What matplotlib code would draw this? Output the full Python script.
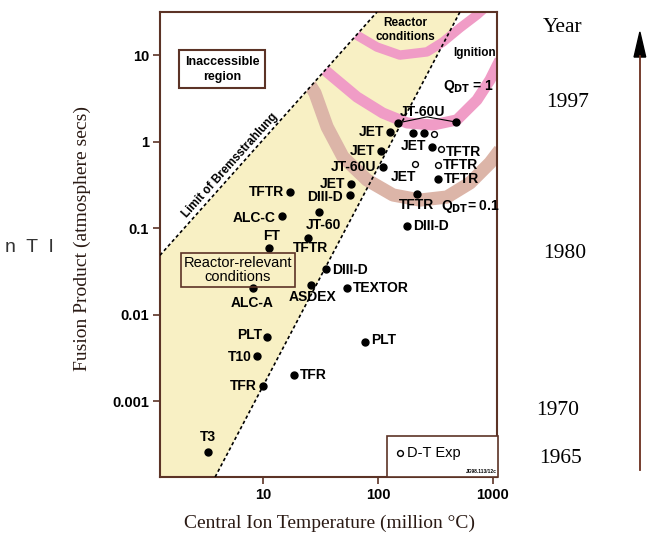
import numpy as np
import matplotlib.pyplot as plt
from matplotlib.patches import Polygon, Rectangle
from matplotlib.lines import Line2D

# D-D experiments (filled dots): central ion temperature (million C), fusion product (atm s)
dd_names = ['JT-60U', '', 'JET', '', '', 'JET', 'JET', 'JT-60U', 'TFTR', 'TFTR',
            'DIII-D', 'TFTR', 'JET', 'DIII-D', 'ALC-C', 'JT-60', 'FT', 'TFTR', 'DIII-D',
            'ASDEX', 'TEXTOR', 'ALC-A', 'PLT', 'T10', 'TFR', 'TFR', 'T3', 'PLT']
dd_T = [149, 476, 127, 201, 251, 106, 295, 110, 333, 218,
        179, 17.2, 58.2, 57.1, 14.6, 30.7, 11.3, 24.6, 35.3,
        26.1, 53.7, 8.18, 10.8, 8.87, 10.0, 18.6, 3.33, 77]
dd_nTt = [1.66, 1.70, 1.31, 1.27, 1.27, 0.787, 0.875, 0.514, 0.373, 0.25,
          0.107, 0.264, 0.327, 0.244, 0.139, 0.155, 0.0595, 0.0776, 0.034,
          0.0222, 0.0205, 0.0205, 0.00557, 0.00336, 0.00151, 0.00202, 0.00026, 0.00487]

# D-T experiments (open circles)
dt_names = ['', 'TFTR', 'JET', 'TFTR']
dt_T = [307, 353, 210, 333]
dt_nTt = [1.24, 0.83, 0.557, 0.542]

# JT-60U link
jt_T = [149, 267, 476]
jt_nTt = [1.66, 1.95, 1.70]

# boundaries
brems_T = [1.27, 98]
brems_nTt = [0.049, 31.8]
relev_T = [3.83, 516]
relev_nTt = [1.34e-4, 31.8]

# Q bands
ign_T = [54.8, 98, 155, 267, 367, 516, 726, 851]
ign_nTt = [19.7, 12.5, 10.1, 11.0, 14.3, 20.8, 29.4, 35.4]
q1_T = [31.3, 40.6, 65.6, 110, 179, 301, 486, 726, 942, 1150]
q1_nTt = [7.56, 5.64, 3.31, 2.16, 1.66, 1.57, 1.80, 3.06, 5.21, 8.87]
q01_T = [24.6, 28.3, 36.1, 49.6, 80.2, 135, 232, 398, 631, 942, 1150]
q01_nTt = [4.94, 3.68, 1.49, 0.671, 0.364, 0.244, 0.213, 0.231, 0.336, 0.572, 0.809]

xticks = [10, 100, 1000]
yticks = [0.001, 0.01, 0.1, 1, 10]
ytick_labels = ['0.001', '0.01', '0.1', '1', '10']
years = ['1997', '1980', '1970', '1965']

# label placement (offset in pixels, alignment)
dd_lab = [(25, 11, 'center'), None, (-6, 0, 'right'), None, None, (-6, 0, 'right'),
          (-6, 1, 'right'), (-6, 0, 'right'), (6, 0, 'left'), (0, -11, 'center'),
          (6, 0, 'left'), (-6, 0, 'right'), (-6, 0, 'right'), (-7, -2, 'right'),
          (-6, -2, 'right'), (4, -13, 'center'), (2, 12, 'center'), (3, -10, 'center'),
          (6, -1, 'left'), (2, -12, 'center'), (6, 0, 'left'), (-1, -15, 'center'),
          (-5, 2, 'right'), (-5, -1, 'right'), (-6, 0, 'right'), (6, 0, 'left'),
          (0, 15, 'center'), (6, 2, 'left')]
dt_lab = [None, (5, -3, 'left'), (-12, -13, 'center'), (5, 0, 'left')]
year_pos = [(0.878, 0.807), (0.873, 0.525), (0.862, 0.229), (0.866, 0.139)]

brown = '#5c3326'
yellow = '#f8f0c4'
pink = '#f09cc6'
tan = '#dcb5a8'
sans = 'Liberation Sans'
serif = 'Liberation Serif'

fig = plt.figure(figsize=(6.47, 5.33), dpi=100)
ax = fig.add_axes([160/647, 1-477/533, 337/647, 465/533])
ax.set_xscale('log')
ax.set_yscale('log')
xmin, xmax = 1.27, 1084
ymin, ymax = 1.34e-4, 31.8
ax.set_xlim(xmin, xmax)
ax.set_ylim(ymin, ymax)

# reactor-relevant region
fill_poly = [(xmin, ymin), (brems_T[0], brems_nTt[0]), (brems_T[1], brems_nTt[1]),
             (relev_T[1], relev_nTt[1]), (relev_T[0], relev_nTt[0])]
ax.add_patch(Polygon(fill_poly, closed=True, facecolor=yellow, edgecolor='none', zorder=1))

for T, n, c, lw in [(q01_T, q01_nTt, tan, 9.5), (q1_T, q1_nTt, pink, 8),
                    (ign_T, ign_nTt, pink, 6.8)]:
    ax.plot(T, n, color=c, lw=lw, solid_capstyle='butt', solid_joinstyle='round', zorder=2)

# inaccessible region stays blank
ax.add_patch(Polygon([(xmin, brems_nTt[0]), (brems_T[1], brems_nTt[1]), (xmin, brems_nTt[1])],
                     closed=True, facecolor='white', edgecolor='none', zorder=2.5))

ax.plot(brems_T, brems_nTt, color='black', lw=1.2, ls=(0, (2, 1.6)), zorder=3)
ax.plot(relev_T, relev_nTt, color='black', lw=1.2, ls=(0, (2, 1.6)), zorder=3)
ax.plot(jt_T, jt_nTt, color='black', lw=0.8, zorder=3)

ax.plot(dd_T, dd_nTt, 'o', color='black', ms=5, zorder=4, ls='none')
ax.plot(dt_T, dt_nTt, 'o', mfc='white', mec='black', mew=1, ms=4.2, zorder=4, ls='none')

lab_kw = dict(textcoords='offset pixels', va='center', fontsize=10, fontweight='bold',
              family=sans, zorder=5)
for name, T, n, lab in zip(dd_names + dt_names, dd_T + dt_T, dd_nTt + dt_nTt, dd_lab + dt_lab):
    if lab is None:
        continue
    ax.annotate(name, (T, n), xytext=(lab[0], lab[1]), ha=lab[2], **lab_kw)

ax.text(5.16, 0.542, 'Limit of Bremsstrahlung', rotation=48, rotation_mode='anchor',
        ha='center', va='center', fontsize=8.5, fontweight='bold', family=sans, zorder=5)

ax.text(0.185, 0.877, 'Inaccessible\nregion', transform=ax.transAxes, ha='center', va='center',
        fontsize=9, fontweight='bold', family=sans, linespacing=1.3, zorder=5,
        bbox=dict(boxstyle='square,pad=0.45', fc='white', ec=brown, lw=1.5))
ax.text(0.231, 0.445, 'Reactor-relevant\nconditions', transform=ax.transAxes, ha='center',
        va='center', fontsize=10.5, family=sans, linespacing=1.0, zorder=5,
        bbox=dict(boxstyle='square,pad=0.2', fc='none', ec=brown, lw=1.2))
ax.text(0.727, 0.961, 'Reactor\nconditions', transform=ax.transAxes, ha='center', va='center',
        fontsize=8.5, fontweight='bold', family=sans, linespacing=1.2, zorder=5)
ax.text(0.932, 0.912, 'Ignition', transform=ax.transAxes, ha='center', va='center',
        fontsize=8.5, fontweight='bold', family=sans, zorder=5)
ax.text(0.840, 0.839, r'Q$_{\mathbf{DT}}$ = 1', transform=ax.transAxes, ha='left', va='center',
        fontsize=10, fontweight='bold', family=sans, zorder=5)
ax.text(0.834, 0.581, r'Q$_{\mathbf{DT}}$= 0.1', transform=ax.transAxes, ha='left', va='center',
        fontsize=10, fontweight='bold', family=sans, zorder=5)

# D-T legend box
ax.add_patch(Rectangle((0.674, 0), 0.33, 0.088, transform=ax.transAxes, fc='white',
                       ec=brown, lw=1.2, zorder=5, clip_on=False))
ax.plot([0.712], [0.0516], 'o', mfc='white', mec='black', mew=1, ms=4.2, transform=ax.transAxes, zorder=6)
ax.text(0.733, 0.0516, 'D-T Exp', transform=ax.transAxes, ha='left', va='center',
        fontsize=10.5, family=sans, zorder=6)
ax.text(0.953, 0.012, 'JG98.113/12c', transform=ax.transAxes, ha='center', va='center',
        fontsize=3.5, fontweight='bold', family=sans, zorder=6)

ax.set_xticks(xticks)
ax.set_xticklabels([str(t) for t in xticks], fontweight='bold', family=sans, fontsize=10.5)
ax.set_yticks(yticks)
ax.set_yticklabels(ytick_labels, fontweight='bold', family=sans, fontsize=10.5)
ax.minorticks_off()
ax.tick_params(direction='out', length=5, width=1.2, color=brown, pad=3,
               top=False, right=False)
for s in ax.spines.values():
    s.set_color(brown)
    s.set_linewidth(1.5)

fig.text(0.510, 0.019, 'Central Ion Temperature (million \u00b0C)', ha='center', va='center',
         fontsize=14, family=serif, color='#2a1a14')
fig.text(0.128, 0.552, 'Fusion Product (atmosphere secs)', ha='center', va='center',
         rotation=90, fontsize=14, family=serif, color='#2a1a14')
fig.text(0.045, 0.535, 'n  T  I', ha='center', va='center', fontsize=14, family=sans, color='#333333')

fig.text(0.870, 0.949, 'Year', ha='center', va='center', fontsize=15.5, family=serif)
for yr, (xx, yy) in zip(years, year_pos):
    fig.text(xx, yy, yr, ha='center', va='center', fontsize=15.5, family=serif)

# time arrow
fig.add_artist(Line2D([0.989, 0.989], [0.118, 0.895], transform=fig.transFigure,
                      color='#6b2e1e', lw=1.3))
fig.add_artist(Polygon([[0.980, 0.893], [0.998, 0.893], [0.989, 0.940]], closed=True,
                       transform=fig.transFigure, color='black'))

fig.savefig('out.png', dpi=100)
